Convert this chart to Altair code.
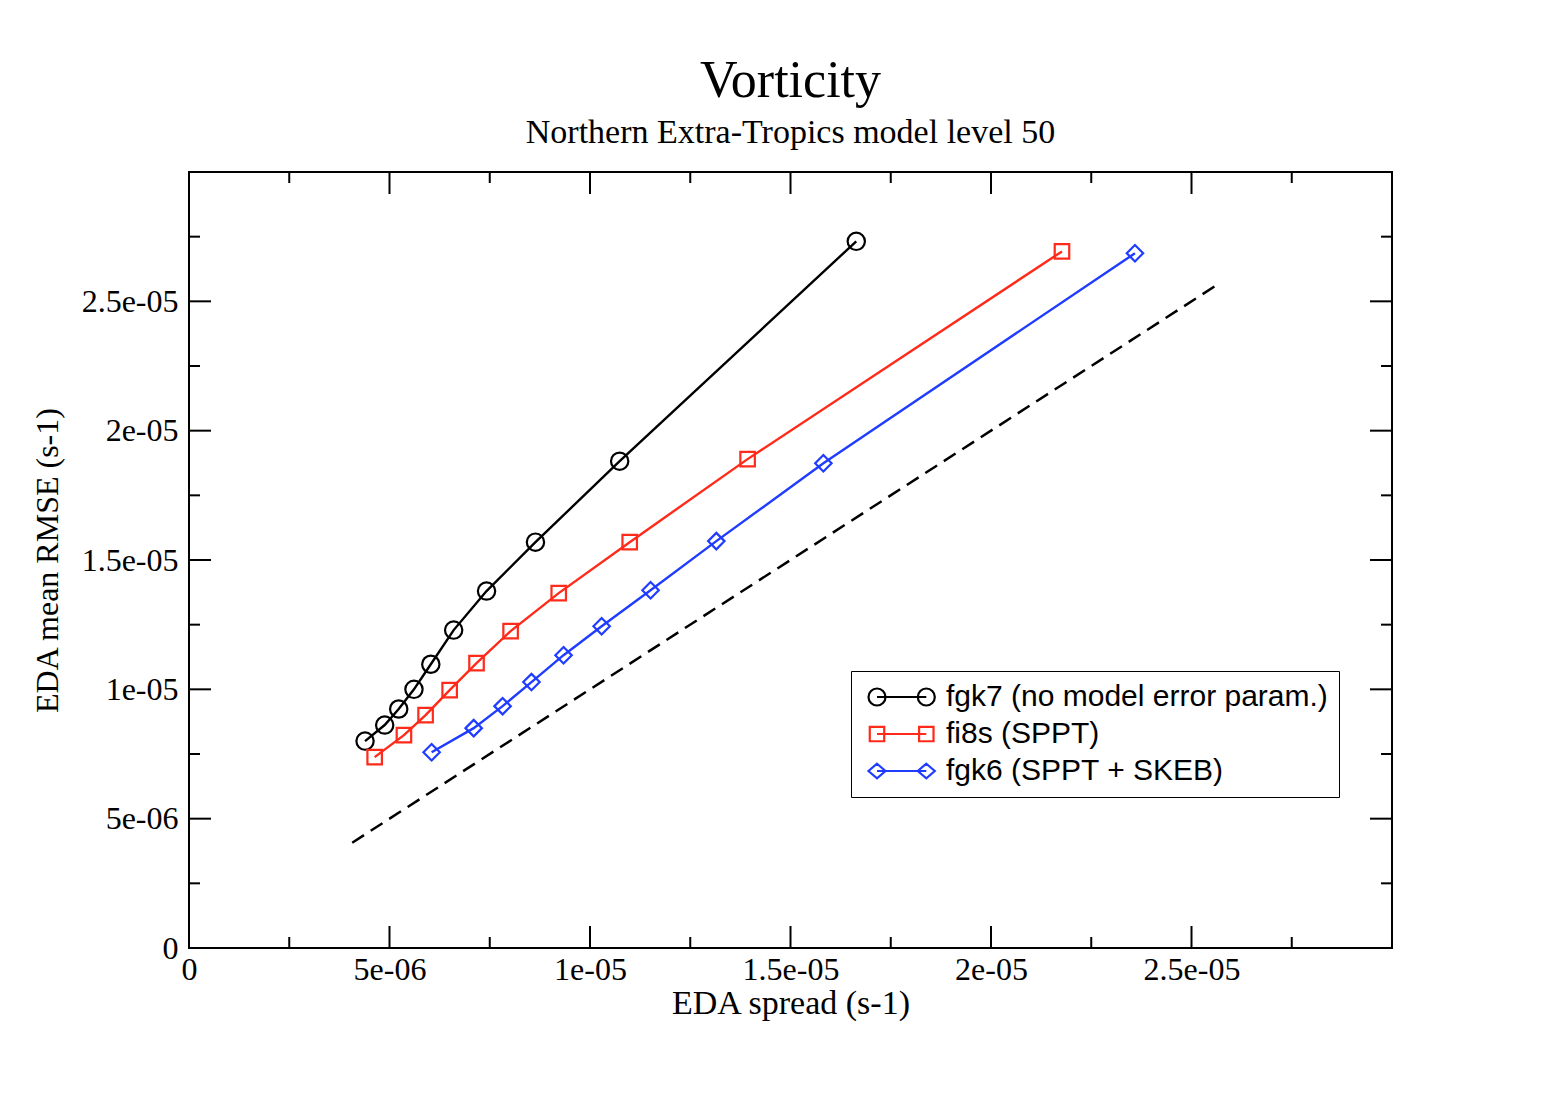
import altair as alt
import pandas as pd

# ---------------- data ----------------
series_names = [
    "fgk7 (no model error param.)",
    "fi8s (SPPT)",
    "fgk6 (SPPT + SKEB)",
]
series_colors = ["#000000", "#ff2a1a", "#1f3cff"]

fgk7_x = [4.39e-6, 4.88e-6, 5.23e-6, 5.61e-6, 6.03e-6, 6.60e-6, 7.42e-6, 8.64e-6, 10.74e-6, 16.64e-6]
fgk7_y = [8.00e-6, 8.62e-6, 9.24e-6, 10.00e-6, 10.97e-6, 12.29e-6, 13.80e-6, 15.69e-6, 18.82e-6, 27.32e-6]

fi8s_x = [4.63e-6, 5.36e-6, 5.90e-6, 6.50e-6, 7.17e-6, 8.02e-6, 9.22e-6, 10.99e-6, 13.93e-6, 21.77e-6]
fi8s_y = [7.38e-6, 8.23e-6, 9.00e-6, 9.97e-6, 11.01e-6, 12.25e-6, 13.72e-6, 15.69e-6, 18.90e-6, 26.93e-6]

fgk6_x = [6.05e-6, 7.10e-6, 7.82e-6, 8.54e-6, 9.34e-6, 10.29e-6, 11.51e-6, 13.15e-6, 15.82e-6, 23.59e-6]
fgk6_y = [7.57e-6, 8.50e-6, 9.35e-6, 10.28e-6, 11.32e-6, 12.44e-6, 13.83e-6, 15.73e-6, 18.74e-6, 26.86e-6]

diag_x = [4.07e-6, 2.56e-5]
diag_y = [4.07e-6, 2.56e-5]

tick_values = [0, 5e-6, 1e-5, 1.5e-5, 2e-5, 2.5e-5]
tick_labels = ["0", "5e-06", "1e-05", "1.5e-05", "2e-05", "2.5e-05"]
major_ticks = [0, 5e-6, 1e-5, 1.5e-5, 2e-5, 2.5e-5, 3e-5]
minor_ticks = [2.5e-6, 7.5e-6, 1.25e-5, 1.75e-5, 2.25e-5, 2.75e-5]
axis_domain = [0, 3e-5]

# ---------------- build tables ----------------
rows = []
for name, xs, ys in zip(series_names, [fgk7_x, fi8s_x, fgk6_x], [fgk7_y, fi8s_y, fgk6_y]):
    for i, (a, b) in enumerate(zip(xs, ys)):
        rows.append({"series": name, "x": a, "y": b, "idx": i})
df = pd.DataFrame(rows)
diag_df = pd.DataFrame({"x": diag_x, "y": diag_y})
major_df = pd.DataFrame({"x": major_ticks, "y": major_ticks})
minor_df = pd.DataFrame({"x": minor_ticks, "y": minor_ticks})
legend_df = pd.DataFrame({"series": series_names, "x": [fgk7_x[0]] * 3, "y": [fgk7_y[0]] * 3})

W, H = 1203, 776
MAJ, MIN = 22, 11
SERIF = "Liberation Serif"
SANS = "Liberation Sans"

label_expr = ""
for v, t in zip(tick_values, tick_labels):
    label_expr += f"abs(datum.value - {v}) < 1e-9 ? '{t}' : "
label_expr += "''"

xscale = alt.Scale(domain=axis_domain, nice=False, zero=False)
yscale = alt.Scale(domain=axis_domain, nice=False, zero=False)
color_scale = alt.Scale(domain=series_names, range=series_colors)

# legend symbol paths (line with a marker at each end)
leg_paths = [
    "M -1 0 A 1 1 0 1 0 1 0 A 1 1 0 1 0 -1 0 M 0 0 L 5.8 0 M 4.8 0 A 1 1 0 1 0 6.8 0 A 1 1 0 1 0 4.8 0",
    "M -0.85 -0.85 L 0.85 -0.85 L 0.85 0.85 L -0.85 0.85 Z M 0 0 L 5.8 0 M 4.95 -0.85 L 6.65 -0.85 L 6.65 0.85 L 4.95 0.85 Z",
    "M 0 -0.85 L 1 0 L 0 0.85 L -1 0 Z M 0 0 L 5.8 0 M 5.8 -0.85 L 6.8 0 L 5.8 0.85 L 4.8 0 Z",
]

x_axis = alt.Axis(
    values=tick_values, labelExpr=label_expr, ticks=False, domain=False, grid=False,
    title="EDA spread (s-1)", labelFont=SERIF, labelFontSize=32, labelColor="black",
    labelPadding=6, labelFlush=False, labelOverlap=False,
    titleFont=SERIF, titleFontSize=34, titleFontWeight="normal", titleColor="black", titlePadding=1,
)
y_axis = alt.Axis(
    values=tick_values, labelExpr=label_expr, ticks=False, domain=False, grid=False,
    title="EDA mean RMSE (s-1)", labelFont=SERIF, labelFontSize=32, labelColor="black",
    labelPadding=11, labelFlush=False, labelOverlap=False,
    titleFont=SERIF, titleFontSize=32, titleFontWeight="normal", titleColor="black", titlePadding=17,
)

leg = alt.Legend(
    title=None, orient="none", legendX=662, legendY=499,
    labelFont=SANS, labelFontSize=30, labelColor="black", labelOffset=54, labelLimit=0,
    symbolOpacity=1, symbolStrokeWidth=2.2, symbolFillColor="transparent",
    symbolSize=289, rowPadding=7, padding=11,
    strokeColor="black", fillColor="white",
)

X = alt.X("x:Q", scale=xscale, axis=x_axis)
Y = alt.Y("y:Q", scale=yscale, axis=y_axis)
C = alt.Color("series:N", scale=color_scale, legend=leg)

base = alt.Chart(df)

diag = alt.Chart(diag_df).mark_line(color="black", strokeWidth=2.5, strokeDash=[14, 8]).encode(x=X, y=Y)

lines = base.mark_line(strokeWidth=2.4).encode(
    x=X, y=Y, color=C, detail="series:N", order="idx:Q",
)

point_layers = []
for name, shp, sz in zip(series_names, ["circle", "square", "diamond"], [300, 210, 270]):
    point_layers.append(
        base.transform_filter(alt.datum.series == name)
        .mark_point(shape=shp, size=sz, filled=False, strokeWidth=2.2, opacity=1)
        .encode(x=X, y=Y, color=C)
    )

legend_layer = alt.Chart(legend_df).mark_point(opacity=0, filled=False, size=289).encode(
    x=X, y=Y, color=C,
    shape=alt.Shape("series:N", scale=alt.Scale(domain=series_names, range=leg_paths), legend=leg),
)

def xticks(d, length):
    bottom = alt.Chart(d).mark_rule(color="black", strokeWidth=2).encode(
        x=X, y=alt.value(H), y2=alt.value(H - length))
    top = alt.Chart(d).mark_rule(color="black", strokeWidth=2).encode(
        x=X, y=alt.value(0), y2=alt.value(length))
    return [bottom, top]

def yticks(d, length):
    left = alt.Chart(d).mark_rule(color="black", strokeWidth=2).encode(
        y=Y, x=alt.value(0), x2=alt.value(length))
    right = alt.Chart(d).mark_rule(color="black", strokeWidth=2).encode(
        y=Y, x=alt.value(W), x2=alt.value(W - length))
    return [left, right]

tick_layers = xticks(major_df, MAJ) + xticks(minor_df, MIN) + yticks(major_df, MAJ) + yticks(minor_df, MIN)

chart = alt.layer(diag, lines, *point_layers, legend_layer, *tick_layers).properties(
    width=W,
    height=H,
    autosize=alt.AutoSizeParams(type="none"),
    padding={"left": 181, "top": 164, "right": 152, "bottom": 150},
    background="white",
    title=alt.TitleParams(
        text="Vorticity",
        subtitle="Northern Extra-Tropics model level 50",
        font=SERIF, fontSize=52, fontWeight="normal", color="black",
        subtitleFont=SERIF, subtitleFontSize=34, subtitleColor="black",
        subtitlePadding=8, anchor="middle", offset=20,
    ),
).configure_view(stroke="black", strokeWidth=2)

chart.save("out.html", embed_options={"renderer": "svg", "actions": False})
